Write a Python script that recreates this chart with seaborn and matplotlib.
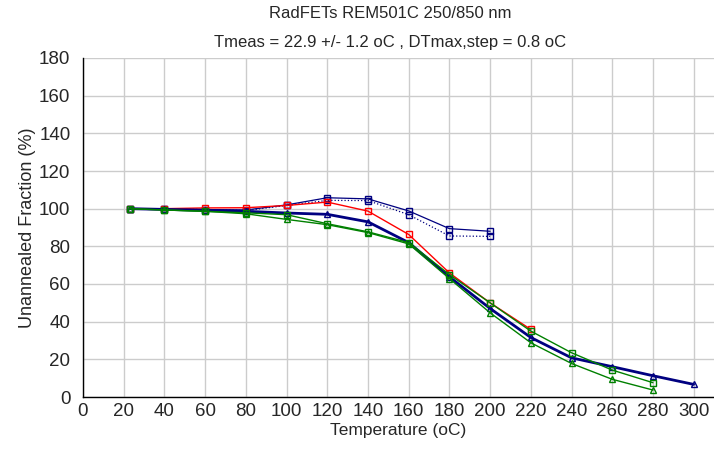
import matplotlib
matplotlib.use("Agg")
import matplotlib.pyplot as plt
import seaborn as sns
import pandas as pd

# Temperaturas de recozimento (oC)
temps = [23, 40, 60, 80, 100, 120, 140, 160, 180, 200, 220, 240, 260, 280, 300]

# Fracao nao recozida (%) por dispositivo
blue_solid = [100, 100, 99.5, 99.3, 102, 105.8, 105.2, 98.8, 89.4, 88]
blue_dotted = [100, 100, 99.5, 99, 101.7, 104.4, 104.3, 96.8, 85.5, 85.3]
red_sq = [100, 100, 100.4, 100.5, 101.7, 103.5, 98.7, 86.3, 65.9, 50, 35.9]
navy_tri = [100, 99.6, 99.2, 98.6, 97.7, 97, 93, 82, 63.8, 47, 31.6, 20.8, 16.1, 11.3, 6.7]
green_sq = [100, 99.3, 98.6, 97.8, 96.8, 92, 87.7, 82, 65, 50, 35, 23.5, 14.3, 7.6]
green_tri = [100, 99.3, 98.6, 97.3, 94.3, 91.5, 87.3, 81.3, 62.9, 44.7, 28.8, 17.8, 9.4, 3.7]

x_ticks = list(range(0, 301, 20))
y_ticks = list(range(0, 181, 20))

sns.set_style("whitegrid")
plt.rcParams['font.family'] = ['Liberation Sans', 'DejaVu Sans']

fig = plt.figure(figsize=(7.14, 4.61), dpi=100)
ax = fig.add_axes([83 / 714, 1 - 397 / 461, 1 - 83 / 714, (397 - 58) / 461])

series = [
    (blue_solid, '#000080', '-', 's', 0.9),
    (blue_dotted, '#000080', ':', 's', 0.9),
    (red_sq, '#ff0000', '-', 's', 1.0),
    (navy_tri, '#000080', '-', '^', 2.0),
    (green_sq, '#008000', '-', 's', 1.0),
    (green_tri, '#008000', '-', '^', 1.0),
]

for vals, color, ls, mk, lw in series:
    df = pd.DataFrame({'temp': temps[:len(vals)], 'frac': vals})
    sns.lineplot(data=df, x='temp', y='frac', ax=ax, color=color, linestyle=ls,
                 linewidth=lw, marker=mk, markersize=5, markerfacecolor='none',
                 markeredgecolor=color, markeredgewidth=1.0, estimator=None,
                 sort=False)

ax.set_xlim(0, 310)
ax.set_ylim(0, 180)
ax.set_xticks(x_ticks)
ax.set_yticks(y_ticks)
ax.grid(True, color='#cccccc', linewidth=1.0)
for side in ['top', 'right']:
    ax.spines[side].set_visible(False)
for side in ['left', 'bottom']:
    ax.spines[side].set_color('black')
    ax.spines[side].set_linewidth(1.0)
ax.tick_params(axis='both', direction='out', length=3, width=1, color='black',
               labelsize=13.5)
ax.tick_params(axis='x', pad=1.5)
ax.tick_params(axis='y', pad=6)

ax.set_xlabel('Temperature (oC)', fontsize=12.5, labelpad=2)
ax.set_ylabel('Unannealed Fraction (%)', fontsize=13, labelpad=2)

fig.text(390 / 714, 1 - 14 / 461, 'RadFETs REM501C 250/850 nm', ha='center',
         va='center', fontsize=12)
fig.text(390 / 714, 1 - 42 / 461, 'Tmeas = 22.9 +/- 1.2 oC , DTmax,step = 0.8 oC',
         ha='center', va='center', fontsize=12)

fig.savefig('out.png', dpi=100)
